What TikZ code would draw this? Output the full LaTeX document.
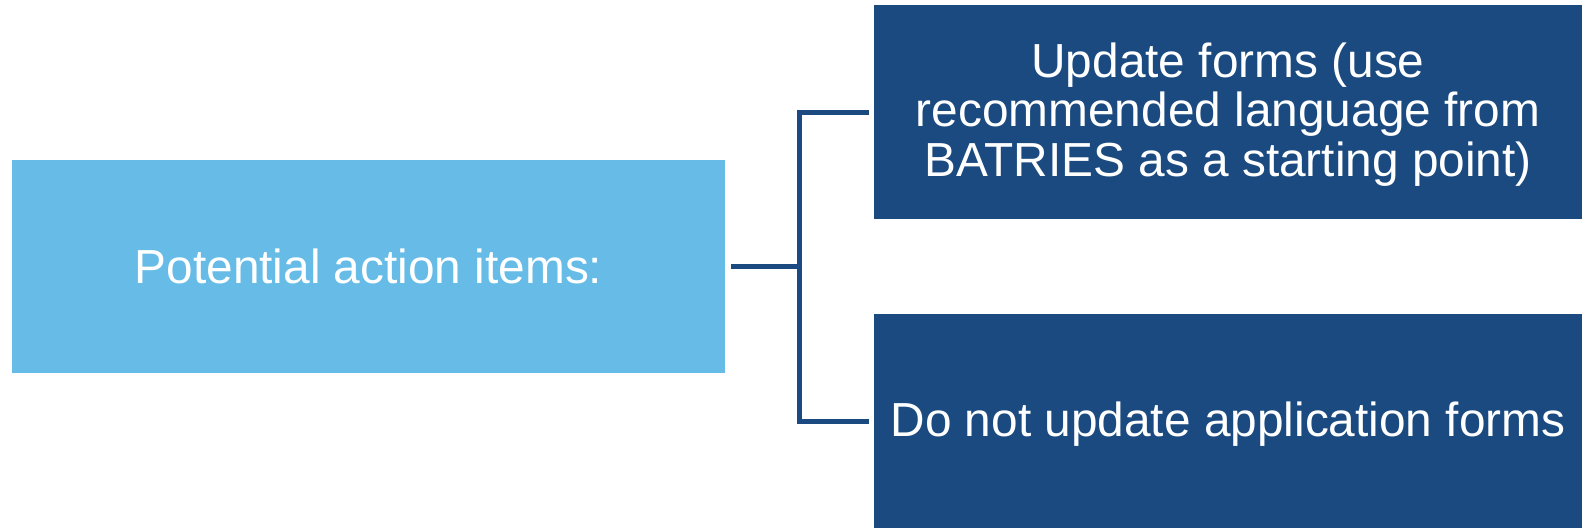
\documentclass[tikz,border=0pt]{standalone}
\usepackage{fontspec}
\setmainfont{Liberation Sans}
\definecolor{lightbox}{HTML}{67BCE7}
\definecolor{darkbox}{HTML}{1A4A80}
\begin{document}
\begin{tikzpicture}[x=1pt,y=-1pt,
  boxbase/.style={inner sep=0pt, outer sep=0pt},
  boxtext/.style={inner sep=0pt, text=white, align=center,
    font=\fontsize{47.8}{49.5}\selectfont},
  lightnode/.style={boxbase, fill=lightbox, minimum width=713pt, minimum height=213pt},
  darknode/.style={boxbase, fill=darkbox, minimum width=708pt, minimum height=214pt},
  conn/.style={draw=darkbox, line width=5pt, line join=miter}]
\useasboundingbox (0,0) rectangle (1582,528);
\node[lightnode] (L) at (368.5,266.5) {};
\node[darknode] (T) at (1228,112) {};
\node[darknode] (B) at (1228,421) {};
\node[boxtext] (Ltext) at (L.center) {Potential action items:};
\node[boxtext] (Ttext) at ([yshift=-2.5pt]T.center) {Update forms (use\\recommended language from\\BATRIES as a starting point)};
\node[boxtext] (Btext) at ([yshift=-3pt]B.center) {Do not update application forms};
\coordinate (J) at (799.5,266.5);
\draw[conn] ([xshift=6pt]L.east) -- (J);
\draw[conn] ([xshift=-5pt]T.west) -| (J) |- ([xshift=-5pt]B.west);
\end{tikzpicture}
\end{document}
